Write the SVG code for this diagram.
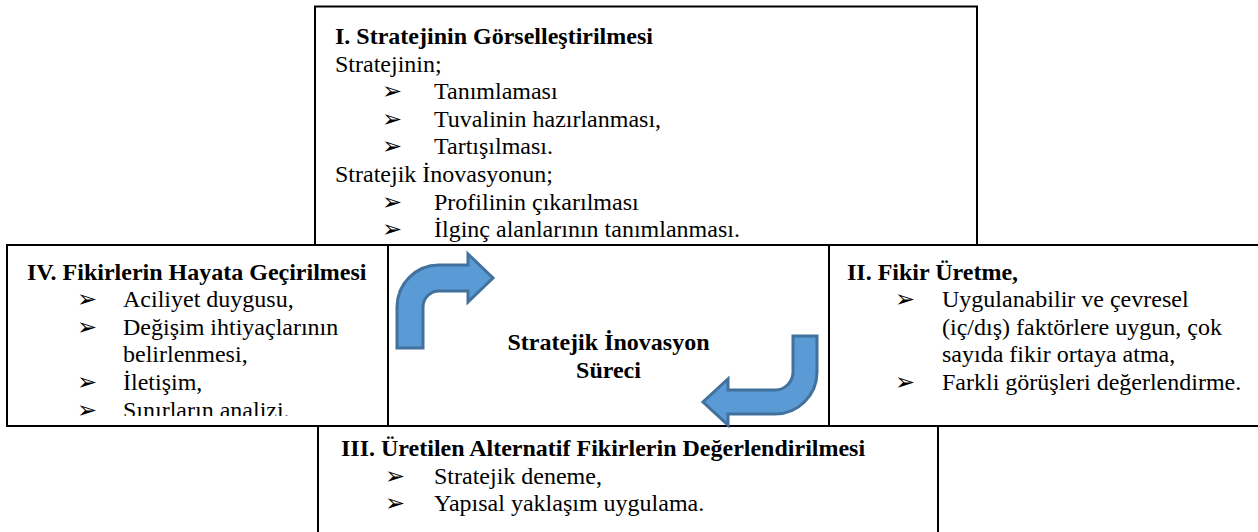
<svg xmlns="http://www.w3.org/2000/svg" width="1258" height="532" viewBox="0 0 1258 532">
<style>
.box{fill:#fff;stroke:#000;stroke-width:2}
.t{font-family:'Liberation Serif','Times New Roman',serif;font-size:24px;fill:#000}
.b{font-weight:bold}
.bl{font-family:'DejaVu Sans',sans-serif;font-size:24px;fill:#000}
.arr{fill:#5B9BD5;stroke:#41719C;stroke-width:3;stroke-linejoin:miter}
</style>
<defs>
<clipPath id="clipLeft"><rect x="7" y="245" width="381" height="171"/></clipPath>
</defs>
<rect width="1258" height="532" fill="#fff"/>
<g id="node-top">
<rect class="box" x="315" y="6.5" width="662" height="240"/>
<text class="t b" x="335" y="44">I. Stratejinin Görselleştirilmesi</text>
<text class="t" x="335" y="71.6">Stratejinin;</text>
<text class="bl" x="382" y="99.2">➢</text><text class="t" x="434" y="99.2">Tanımlaması</text>
<text class="bl" x="382" y="126.8">➢</text><text class="t" x="434" y="126.8">Tuvalinin hazırlanması,</text>
<text class="bl" x="382" y="154.4">➢</text><text class="t" x="434" y="154.4">Tartışılması.</text>
<text class="t" x="335" y="182">Stratejik İnovasyonun;</text>
<text class="bl" x="382" y="209.6">➢</text><text class="t" x="434" y="209.6">Profilinin çıkarılması</text>
<text class="bl" x="382" y="237.2">➢</text><text class="t" x="434" y="237.2">İlginç alanlarının tanımlanması.</text>
</g>
<g id="node-bottom">
<rect class="box" x="318" y="426" width="620" height="120"/>
<text class="t b" x="341" y="456">III. Üretilen Alternatif Fikirlerin Değerlendirilmesi</text>
<text class="bl" x="385" y="483.6">➢</text><text class="t" x="434" y="483.6">Stratejik deneme,</text>
<text class="bl" x="385" y="511.2">➢</text><text class="t" x="434" y="511.2">Yapısal yaklaşım uygulama.</text>
</g>
<g id="node-left">
<rect class="box" x="7" y="245" width="381" height="181"/>
<g clip-path="url(#clipLeft)">
<text class="t b" x="27" y="279.5">IV. Fikirlerin Hayata Geçirilmesi</text>
<text class="bl" x="77" y="307.1">➢</text><text class="t" x="123" y="307.1">Aciliyet duygusu,</text>
<text class="bl" x="77" y="334.7">➢</text><text class="t" x="123" y="334.7">Değişim ihtiyaçlarının</text>
<text class="t" x="123" y="362.3">belirlenmesi,</text>
<text class="bl" x="77" y="389.9">➢</text><text class="t" x="123" y="389.9">İletişim,</text>
<text class="bl" x="77" y="418">➢</text><text class="t" x="123" y="418">Sınırların analizi.</text>
</g>
</g>
<g id="node-right">
<rect class="box" x="829" y="245" width="432" height="181"/>
<text class="t b" x="847" y="279.5">II. Fikir Üretme,</text>
<text class="bl" x="895" y="307.1">➢</text><text class="t" x="942" y="307.1">Uygulanabilir ve çevresel</text>
<text class="t" x="942" y="334.7">(iç/dış) faktörlere uygun, çok</text>
<text class="t" x="942" y="362.3">sayıda fikir ortaya atma,</text>
<text class="bl" x="895" y="389.9">➢</text><text class="t" x="942" y="389.9">Farkli görüşleri değerlendirme.</text>
</g>
<g id="node-center">
<rect class="box" x="388" y="245" width="441" height="181"/>
<text class="t b" x="608.5" y="350" text-anchor="middle">Stratejik İnovasyon</text>
<text class="t b" x="608.5" y="377.6" text-anchor="middle">Süreci</text>
</g>
<g id="connectors">
<path class="arr" d="M397 348 L397 307 A42 42 0 0 1 439 265 L468 265 L468 254 L493 278 L468 302 L468 291 L439 291 A16 16 0 0 0 423 307 L423 348 Z"/>
<path class="arr" d="M817 336 L817 372 A42 42 0 0 1 775 414 L728 414 L728 425 L703 402 L728 379 L728 390 L775 390 A18 18 0 0 0 793 372 L793 336 Z"/>
</g>
</svg>
